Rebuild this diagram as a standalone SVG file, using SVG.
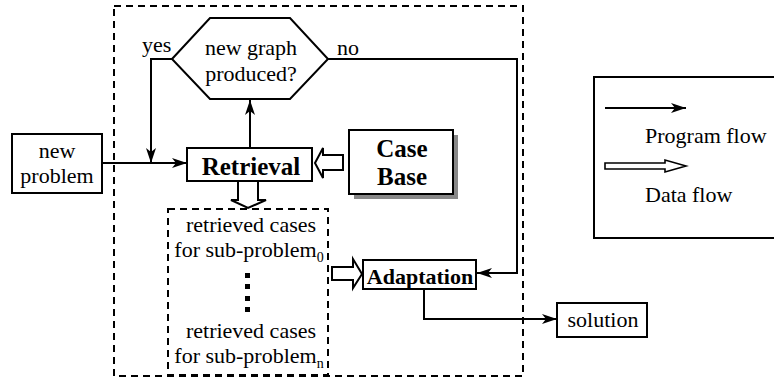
<svg xmlns="http://www.w3.org/2000/svg" width="774" height="379" viewBox="0 0 774 379">
<defs>
<marker id="ah" markerWidth="16" markerHeight="10" refX="15" refY="5" orient="auto" markerUnits="userSpaceOnUse">
<path d="M0,0 L15,5 L0,10 L4,5 z" fill="#000"/>
</marker>
<style>
.t{font-family:'Liberation Serif',serif;font-size:22px;fill:#000}
.b{font-weight:bold}
.box{fill:#fff;stroke:#000;stroke-width:2}
.dash{fill:none;stroke:#000;stroke-width:2;stroke-dasharray:7,5}
.ln{fill:none;stroke:#000;stroke-width:2}
.hol{fill:#fff;stroke:#000;stroke-width:2;stroke-linejoin:miter}
</style>
</defs>
<rect width="774" height="379" fill="#fff"/>
<g font-family="'Liberation Serif', serif">

<g id="outer">
<rect x="114" y="6" width="409" height="370" class="dash"/>
</g>

<g id="connectors">
<path d="M102,163 L187,163" class="ln" marker-end="url(#ah)"/>
<path d="M172,59 L151,59 L151,163" class="ln" marker-end="url(#ah)"/>
<path d="M250,148 L250,100" class="ln" marker-end="url(#ah)"/>
<path d="M328,59 L517,59 L517,273 L477,273" class="ln" marker-end="url(#ah)"/>
<path d="M424,289 L424,319 L557,319" class="ln" marker-end="url(#ah)"/>
<path d="M343,155 L323,155 L323,148 L315,163 L323,178 L323,170 L343,170 z" class="hol"/>
<path d="M238,181 L238,200 L231,200 L248,208 L266,200 L258,200 L258,181 z" class="hol"/>
<path d="M332,267 L353,267 L353,259 L362,274 L353,288 L353,280 L332,280 z" class="hol"/>
</g>

<g id="new-problem">
<rect x="12" y="134" width="90" height="59" class="box"/>
<text x="57" y="158" class="t" text-anchor="middle">new</text>
<text x="57" y="183" class="t" text-anchor="middle">problem</text>
</g>

<g id="decision">
<polygon points="172,59 210,18 290,18 328,59 290,99 210,99" class="box"/>
<text x="251" y="55" class="t" text-anchor="middle">new graph</text>
<text x="251" y="81" class="t" text-anchor="middle">produced?</text>
<text x="142" y="52" class="t">yes</text>
<text x="337" y="55" class="t">no</text>
</g>

<g id="retrieval">
<rect x="187" y="148" width="125" height="33" class="box"/>
<text x="251" y="175" class="t b" text-anchor="middle" style="font-size:25px">Retrieval</text>
</g>

<g id="case-base">
<rect x="354" y="135" width="104" height="64" fill="#888"/>
<rect x="349" y="130" width="104" height="64" class="box"/>
<text x="402" y="157" class="t b" text-anchor="middle" style="font-size:25px">Case</text>
<text x="402" y="185" class="t b" text-anchor="middle" style="font-size:25px">Base</text>
</g>

<g id="retrieved-cases">
<rect x="168" y="209" width="160" height="166" class="dash"/>
<text x="251" y="232" class="t" text-anchor="middle">retrieved cases</text>
<text x="249" y="257" class="t" text-anchor="middle">for sub-problem<tspan dy="5" style="font-size:14px">0</tspan></text>
<rect x="245" y="273" width="5" height="5" fill="#000"/>
<rect x="245" y="284" width="5" height="5" fill="#000"/>
<rect x="245" y="296" width="5" height="5" fill="#000"/>
<rect x="245" y="307" width="5" height="5" fill="#000"/>
<text x="251" y="338" class="t" text-anchor="middle">retrieved cases</text>
<text x="249" y="363" class="t" text-anchor="middle">for sub-problem<tspan dy="5" style="font-size:14px">n</tspan></text>
</g>

<g id="adaptation">
<rect x="363" y="260" width="113" height="29" class="box"/>
<text x="420" y="284" class="t b" text-anchor="middle">Adaptation</text>
</g>

<g id="solution">
<rect x="557" y="303" width="90" height="34" class="box"/>
<text x="603" y="327" class="t" text-anchor="middle">solution</text>
</g>

<g id="legend">
<rect x="594" y="77" width="190" height="161" class="box"/>
<path d="M605,108 L686,108" class="ln" marker-end="url(#ah)"/>
<text x="645" y="143" class="t">Program flow</text>
<path d="M605,163 L665,163 L665,160 L686,166 L665,172 L665,169 L605,169 z" class="hol" style="stroke-width:1.6"/>
<text x="645" y="202" class="t">Data flow</text>
</g>
</g>
</svg>
